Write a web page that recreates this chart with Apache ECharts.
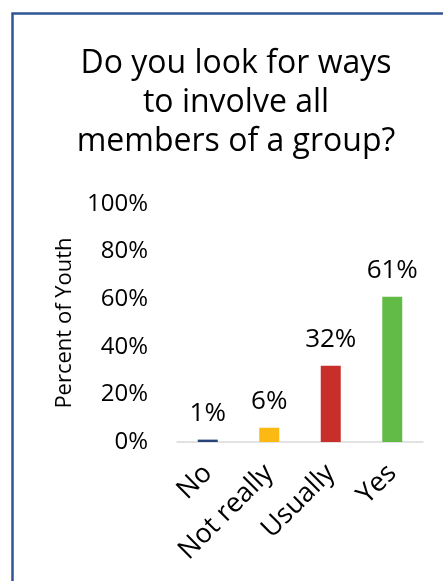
<!DOCTYPE html>
<html><head><meta charset="utf-8">
<script src="https://cdn.jsdelivr.net/npm/echarts@6/dist/echarts.min.js"></script>
<style>html,body{margin:0;padding:0;background:#fff}#c{width:443px;height:581px}</style>
</head><body><div id="c"></div>
<script>
var categories = ['No', 'Not really', 'Usually', 'Yes'];
var values = [1, 6, 32, 61];
var barColors = ['#264478', '#FDB913', '#C82E2A', '#63BB47'];
var yTicks = [0, 20, 40, 60, 80, 100];
var titleText = 'Do you look for ways\nto involve all\nmembers of a group?';
var yName = 'Percent of Youth';
var FONT = '"Open Sans", "Noto Sans", sans-serif';

var chart = echarts.init(document.getElementById('c'));
chart.setOption({
  backgroundColor: '#fff',
  animation: false,
  graphic: [{
    type: 'rect', left: 10, top: 11, silent: true,
    shape: { x: 10, y: 11, width: 600, height: 700 },
    style: { fill: 'none', stroke: '#2F5597', lineWidth: 2.5 }
  }],
  title: {
    text: titleText, left: 231, top: 39, textAlign: 'center',
    textStyle: { fontFamily: FONT, fontSize: 32, fontWeight: 'normal', color: '#000', lineHeight: 39 }
  },
  grid: { left: 177, right: 20, top: 204, bottom: 139, containLabel: false },
  xAxis: {
    type: 'category', data: categories,
    axisLine: { lineStyle: { color: '#D9D9D9', width: 1.5 } },
    axisTick: { show: false },
    axisLabel: { rotate: 45, interval: 0, margin: 27, color: '#000', fontFamily: FONT, fontSize: 27 }
  },
  yAxis: {
    type: 'value', min: yTicks[0], max: yTicks[yTicks.length - 1], interval: 20,
    name: yName, nameLocation: 'middle', nameGap: 101, nameRotate: 90,
    nameTextStyle: { fontFamily: FONT, fontSize: 22, color: '#000' },
    splitLine: { show: false }, axisLine: { show: false }, axisTick: { show: false },
    axisLabel: { formatter: '{value}%', margin: 29, color: '#000', fontFamily: FONT, fontSize: 24 }
  },
  series: [{
    type: 'bar', barWidth: 20,
    data: values.map(function (v, i) { return { value: v, itemStyle: { color: barColors[i] } }; }),
    label: { show: true, position: 'top', distance: 13, formatter: '{c}%', color: '#000', fontFamily: FONT, fontSize: 26 }
  }]
});
</script></body></html>
